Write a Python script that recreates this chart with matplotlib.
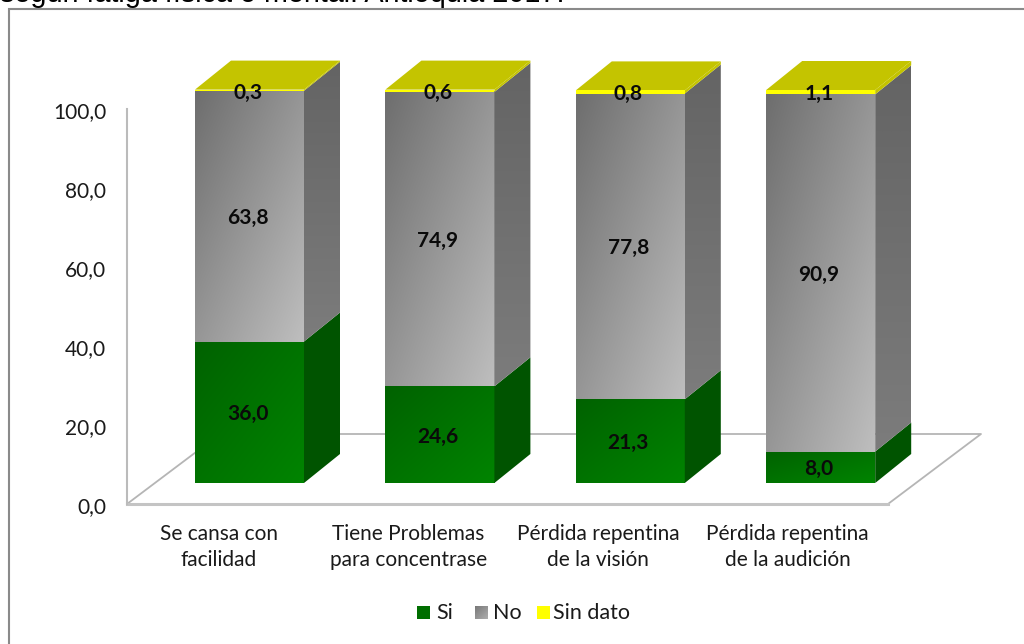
import numpy as np
import matplotlib
matplotlib.use('Agg')
import matplotlib.pyplot as plt
from matplotlib.patches import Polygon, Rectangle
from matplotlib.transforms import ScaledTranslation

categories = ['Se cansa con\nfacilidad', 'Tiene Problemas\npara concentrase',
              'Pérdida repentina\nde la visión', 'Pérdida repentina\nde la audición']
si = [36.0, 24.6, 21.3, 8.0]
no = [63.8, 74.9, 77.8, 90.9]
sin_dato = [0.3, 0.6, 0.8, 1.1]
y_ticks = [0, 20, 40, 60, 80, 100]
y_labels = ['0,0', '20,0', '40,0', '60,0', '80,0', '100,0']
title_tail = 'según fatiga física o mental. Antioquia 2017.'

W, H = 1024, 644
plt.rcParams['font.family'] = ['Lato', 'DejaVu Sans']
fig = plt.figure(figsize=(W / 100, H / 100), dpi=100)

# overlay in pixels for frame, floor, legend and the cut off title
bg = fig.add_axes([0, 0, 1, 1])
bg.set_xlim(0, W)
bg.set_ylim(H, 0)
bg.axis('off')
bg.add_patch(Rectangle((8.5, 9), 1040, 660, fc='white', ec='#8a8a8a', lw=1.5))
bg.text(0, 2, title_tail, fontsize=20.7, family='Liberation Sans', color='black', va='baseline', ha='left')
bg.plot([220, 981, 888, 127, 220], [434, 434, 504, 504, 434], color='#b5b5b5', lw=1.3)
bg.plot([127, 888], [504, 504], color='#c4c4c4', lw=2.2)

# value axis, drawn on the front plane
ax_y = fig.add_axes([127 / W, 1 - 504 / H, 1 / W, 395 / H])
ax_y.set_ylim(0, 100)
ax_y.set_xticks([])
ax_y.set_yticks(y_ticks)
ax_y.set_yticklabels(y_labels, fontsize=15, color='#1a1a1a')
ax_y.tick_params(axis='y', length=0, pad=15)
for lab in ax_y.get_yticklabels():
    lab.set_transform(lab.get_transform() + ScaledTranslation(0, -1 / 100, fig.dpi_scale_trans))
for s in ['top', 'right', 'bottom']:
    ax_y.spines[s].set_visible(False)
ax_y.spines['left'].set_color('#bbbbbb')
ax_y.spines['left'].set_linewidth(1.5)
ax_y.patch.set_alpha(0)

# bars axes: value 0 sits at y=483 and 100 at y=90, room above for the depth
ax = fig.add_axes([0, 1 - 483 / H, 1, 393 * 1.2 / H])
ax.patch.set_alpha(0)
ax.axis('off')
x0 = 249.5
step = 190.4
ax.set_xlim(-x0 / step, (W - x0) / step)
ax.set_ylim(0, 120)
bar_w = 109 / step
dx = 36 / step
dy = 29 / 3.93


def grad(target, ext, c0, c1, diagonal=True):
    g = np.linspace(0, 1, 64)
    img = (g[None, :] + g[:, None]) / 2 if diagonal else np.repeat(g[:, None], 4, axis=1)
    rgb = np.array(c0)[None, None, :] + img[:, :, None] * (np.array(c1) - np.array(c0))[None, None, :]
    return target.imshow(rgb / 255, extent=ext, aspect='auto', origin='upper', zorder=3,
                         interpolation='bilinear')


for i in range(4):
    left = i - bar_w / 2
    right = i + bar_w / 2
    a = si[i]
    b = si[i] + no[i]
    c = b + sin_dato[i]
    grad(ax, [left, right, 0, a], (0, 98, 0), (0, 132, 0))
    grad(ax, [left, right, a, b], (110, 110, 110), (190, 190, 190))
    ax.add_patch(Rectangle((left, b), bar_w, sin_dato[i], fc='#ffff00', ec='none', zorder=4))
    ax.add_patch(Polygon([(right, 0), (right + dx, dy), (right + dx, a + dy), (right, a)],
                         fc='#005400', ec='none', zorder=3))
    side = Polygon([(right, a), (right + dx, a + dy), (right + dx, b + dy), (right, b)],
                   fc='none', ec='none', transform=ax.transData)
    ax.add_patch(side)
    im = grad(ax, [right, right + dx, a, b + dy], (100, 100, 100), (124, 124, 124), diagonal=False)
    im.set_clip_path(side)
    ax.add_patch(Polygon([(right, b), (right + dx, b + dy), (right + dx, c + dy), (right, c)],
                         fc='#c4c400', ec='none', zorder=3))
    ax.add_patch(Polygon([(left, c), (left + dx, c + dy), (right + dx, c + dy), (right, c)],
                         fc='#c4c400', ec='none', zorder=3))
    ax.text(i - 0.01, a / 2 - 0.5, f'{si[i]:.1f}'.replace('.', ','), ha='center', va='center',
            fontsize=15, fontweight='bold', color='#0a0a0a', zorder=6)
    ax.text(i - 0.01, a + no[i] / 2 - 0.5, f'{no[i]:.1f}'.replace('.', ','), ha='center', va='center',
            fontsize=15, fontweight='bold', color='#0a0a0a', zorder=6)
    ax.text(i - 0.01, c - 0.9, f'{sin_dato[i]:.1f}'.replace('.', ','), ha='center', va='center',
            fontsize=15, fontweight='bold', color='#0a0a0a', zorder=6)
    bg.text(219 + i * 189.5, 547, categories[i], ha='center', va='center', fontsize=15,
            color='#1a1a1a', linespacing=1.43)

# legend
bg.add_patch(Rectangle((417, 606), 13, 13, fc='#006e00', ec='none'))
grad(bg, [475, 488, 619, 606], (120, 120, 120), (175, 175, 175))
bg.set_xlim(0, W)
bg.set_ylim(H, 0)
bg.add_patch(Rectangle((537, 606), 13, 13, fc='#ffff00', ec='none'))
for xs, lab in [(436, 'Si'), (493, 'No'), (553, 'Sin dato')]:
    bg.text(xs, 613, lab, ha='left', va='center', fontsize=15.5, color='#1a1a1a')

fig.savefig('out.png', dpi=100)
